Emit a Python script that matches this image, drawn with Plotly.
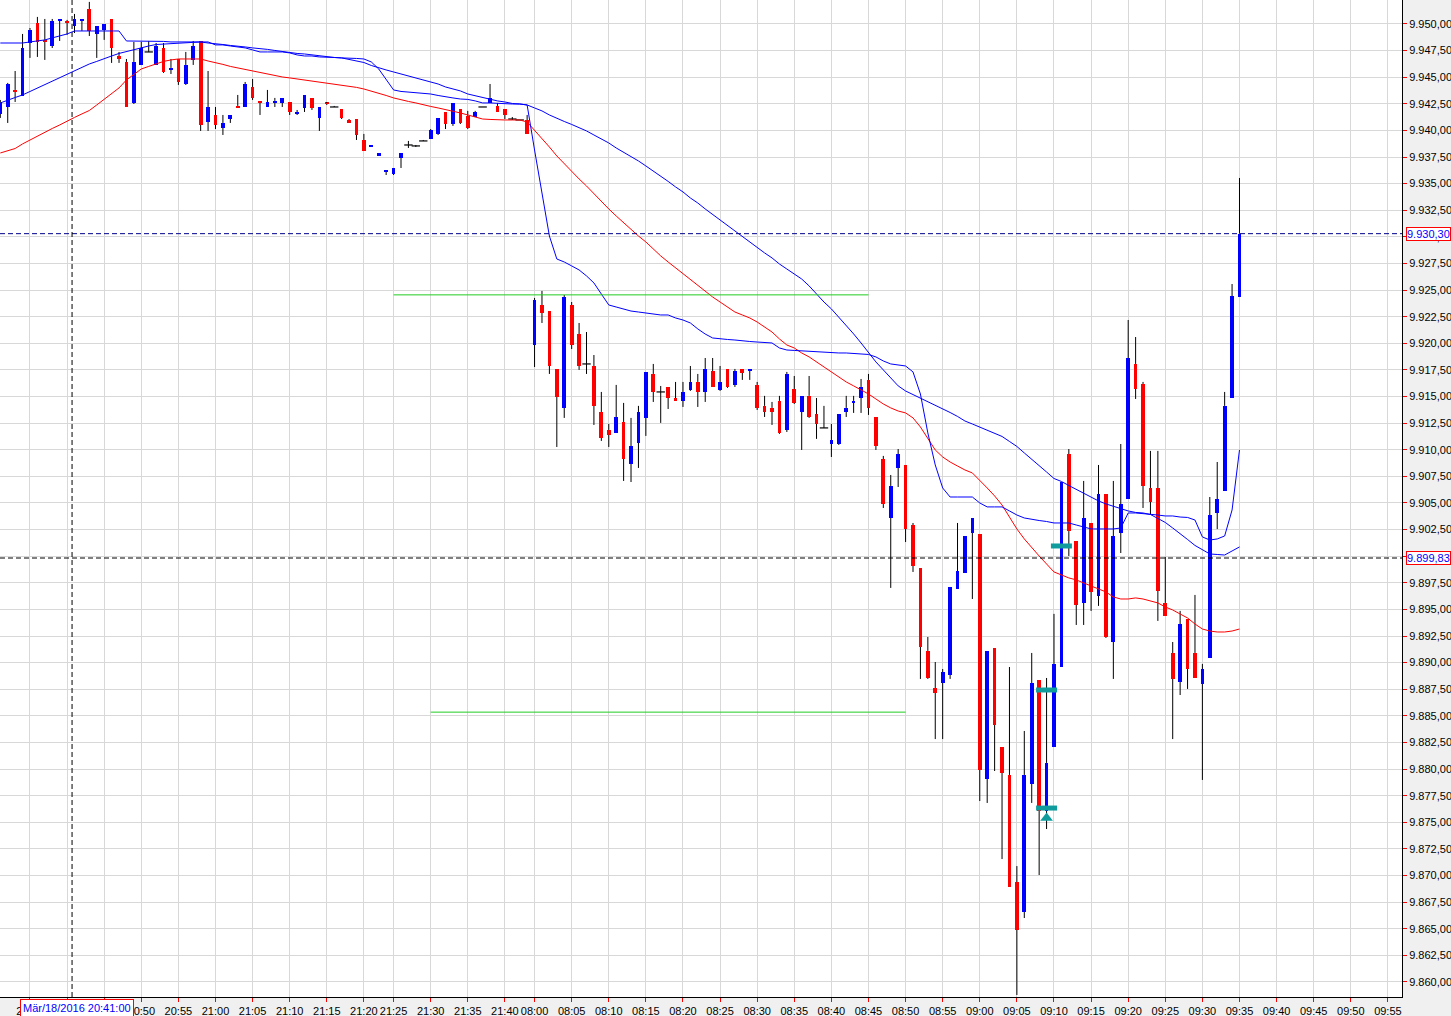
import plotly.graph_objects as go


def minutes(h, m, n):
    out = []
    for k in range(n):
        t = h * 60 + m + k
        out.append(f"{t // 60:02d}:{t % 60:02d}")
    return out


# bar times (one bar per minute, session gap between 21:43 and 08:00)
times = minutes(20, 31, 51) + ["21:23", "21:24"] + minutes(21, 25, 19) + minutes(8, 0, 96)
future = minutes(9, 36, 21)
slots = times + future

tick_labels = ["20:35", "20:40", "20:45", "20:50", "20:55", "21:00", "21:05", "21:10",
               "21:15", "21:20", "21:25", "21:30", "21:35", "21:40", "08:00", "08:05",
               "08:10", "08:15", "08:20", "08:25", "08:30", "08:35", "08:40", "08:45",
               "08:50", "08:55", "09:00", "09:05", "09:10", "09:15", "09:20", "09:25",
               "09:30", "09:35", "09:40", "09:45", "09:50", "09:55"]
# labels hidden behind the cursor time box
hidden_labels = ["20:40", "20:45"]

open_ = [
    9941.55, 9942.20, 9943.80, 9943.24, 9948.21, 9950.09, 9948.50, 9947.93, 9950.28, 9950.28,
    9949.81, 9950.28, 9951.41, 9949.06, 9949.44, 9950.47, 9946.99, 9946.43, 9942.58, 9946.15,
    9947.37, 9946.15, 9947.74, 9945.68, 9946.71, 9944.36, 9946.62, 9948.40, 9940.79, 9941.45,
    9940.23, 9941.07, 9942.30, 9942.20, 9944.08, 9942.77, 9942.20, 9942.58, 9942.58, 9942.67,
    9941.55, 9942.11, 9943.05, 9941.17, 9942.58, 9942.20, 9942.01, 9940.98, 9941.07, 9939.10,
    9938.44, 9937.60, 9936.10, 9935.91, 9937.41, 9938.63, 9938.54, 9939.01, 9939.20, 9939.67,
    9941.73, 9940.60, 9942.01, 9941.36, 9941.26, 9942.20, 9942.58, 9942.30, 9942.01, 9941.07,
    9940.98, 9940.98, 9919.84, 9923.60, 9923.03, 9917.59, 9913.93, 9923.60, 9920.87, 9918.06,
    9917.87, 9913.55, 9911.86, 9911.58, 9912.61, 9908.66, 9910.64, 9912.99, 9917.12, 9915.43,
    9915.90, 9914.86, 9914.59, 9915.62, 9916.37, 9915.43, 9917.40, 9915.62, 9917.59, 9916.09,
    9917.59, 9917.40, 9916.09, 9914.12, 9913.93, 9914.59, 9911.86, 9915.71, 9913.55, 9915.06,
    9913.36, 9912.05, 9910.54, 9910.54, 9913.55, 9914.40, 9914.86, 9916.56, 9913.08, 9909.13,
    9903.59, 9908.29, 9908.57, 9902.93, 9898.90, 9891.10, 9887.62, 9888.09, 9888.84, 9896.92,
    9898.43, 9902.18, 9902.08, 9879.07, 9891.38, 9882.08, 9879.45, 9869.39, 9866.57, 9878.61,
    9888.37, 9876.06, 9882.08, 9889.59, 9909.60, 9901.43, 9895.61, 9903.12, 9896.27, 9905.84,
    9891.94, 9902.18, 9905.37, 9918.06, 9916.18, 9906.41, 9906.41, 9895.61, 9890.91, 9888.18,
    9894.11, 9890.91, 9887.99, 9890.44, 9904.06, 9906.13, 9914.86, 9924.35]

high = [
    9942.86, 9944.46, 9945.58, 9949.06, 9949.62, 9950.66, 9950.47, 9950.47, 9950.47, 9950.38,
    9950.94, 9950.47, 9952.07, 9949.81, 9950.00, 9950.47, 9947.37, 9946.71, 9948.31, 9948.31,
    9948.40, 9948.21, 9948.21, 9946.71, 9946.71, 9947.37, 9948.40, 9948.40, 9945.58, 9942.20,
    9941.45, 9941.45, 9943.33, 9944.55, 9944.83, 9942.77, 9943.80, 9943.05, 9943.05, 9942.67,
    9941.92, 9943.33, 9943.05, 9942.20, 9942.67, 9942.30, 9942.01, 9941.07, 9941.07, 9939.67,
    9938.63, 9937.88, 9936.29, 9936.47, 9937.88, 9939.01, 9938.63, 9939.10, 9940.13, 9941.17,
    9941.73, 9942.58, 9942.01, 9941.83, 9941.83, 9942.20, 9944.36, 9942.58, 9942.01, 9941.26,
    9940.98, 9941.45, 9924.26, 9924.92, 9923.03, 9917.59, 9924.54, 9923.88, 9921.91, 9921.06,
    9918.90, 9915.43, 9912.42, 9916.09, 9914.40, 9912.99, 9914.12, 9917.31, 9918.06, 9915.99,
    9915.90, 9916.37, 9916.37, 9917.87, 9917.12, 9918.62, 9918.62, 9917.87, 9917.59, 9917.59,
    9917.59, 9917.59, 9916.37, 9915.06, 9914.49, 9915.06, 9917.31, 9916.93, 9915.06, 9916.93,
    9914.86, 9914.12, 9912.42, 9913.36, 9915.06, 9915.06, 9916.65, 9917.12, 9913.08, 9909.42,
    9907.63, 9910.07, 9908.57, 9903.12, 9898.90, 9892.41, 9890.06, 9889.40, 9897.11, 9903.12,
    9901.90, 9903.59, 9902.08, 9891.10, 9891.38, 9882.08, 9889.59, 9870.89, 9883.58, 9890.91,
    9888.37, 9888.56, 9894.58, 9906.97, 9910.07, 9901.43, 9907.07, 9903.12, 9908.57, 9905.84,
    9907.07, 9910.54, 9922.19, 9920.59, 9916.37, 9909.89, 9909.89, 9899.93, 9891.94, 9894.86,
    9894.11, 9896.36, 9889.88, 9905.56, 9908.85, 9915.43, 9925.57, 9935.53]

low = [
    9941.17, 9940.70, 9942.67, 9943.24, 9946.81, 9946.90, 9946.62, 9947.74, 9948.40, 9948.97,
    9949.15, 9949.34, 9948.87, 9946.81, 9948.50, 9946.34, 9946.34, 9942.20, 9942.48, 9946.15,
    9947.37, 9946.15, 9945.40, 9945.30, 9944.27, 9944.27, 9946.15, 9939.95, 9939.95, 9940.13,
    9939.57, 9940.70, 9942.11, 9942.20, 9942.86, 9941.45, 9942.20, 9942.20, 9942.20, 9941.45,
    9941.45, 9941.73, 9941.92, 9939.95, 9942.39, 9942.20, 9941.07, 9940.70, 9939.10, 9938.07,
    9938.44, 9937.60, 9935.81, 9935.81, 9936.47, 9938.35, 9938.44, 9939.01, 9939.20, 9939.57,
    9940.13, 9940.42, 9940.60, 9940.13, 9941.26, 9942.20, 9942.58, 9941.73, 9941.07, 9940.98,
    9940.98, 9939.67, 9917.77, 9921.91, 9917.12, 9910.26, 9912.99, 9919.46, 9917.50, 9917.12,
    9912.33, 9910.83, 9910.26, 9911.58, 9907.07, 9906.97, 9908.29, 9911.30, 9914.49, 9912.52,
    9913.83, 9914.59, 9914.02, 9915.53, 9914.02, 9914.49, 9915.90, 9915.53, 9915.81, 9915.90,
    9916.56, 9916.56, 9913.74, 9913.08, 9912.33, 9911.49, 9911.67, 9914.30, 9909.98, 9912.99,
    9911.02, 9912.05, 9909.32, 9910.45, 9913.08, 9913.46, 9913.46, 9913.27, 9909.98, 9904.53,
    9897.02, 9906.50, 9901.33, 9898.52, 9888.47, 9888.47, 9882.82, 9882.82, 9888.47, 9896.92,
    9898.43, 9895.98, 9877.00, 9876.82, 9879.82, 9871.55, 9868.92, 9858.78, 9866.01, 9876.82,
    9870.05, 9874.37, 9882.08, 9889.59, 9900.02, 9893.54, 9893.54, 9894.86, 9895.33, 9892.32,
    9888.47, 9900.30, 9905.37, 9914.77, 9904.53, 9903.96, 9893.92, 9894.39, 9882.82, 9886.96,
    9887.53, 9888.56, 9878.98, 9890.44, 9902.55, 9906.13, 9914.86, 9924.35]

close = [
    9942.58, 9944.36, 9943.61, 9947.74, 9949.44, 9948.31, 9948.31, 9950.28, 9950.47, 9950.09,
    9950.47, 9950.47, 9949.34, 9949.81, 9950.00, 9947.74, 9946.71, 9942.20, 9946.43, 9947.74,
    9947.37, 9947.93, 9945.49, 9945.87, 9944.55, 9946.15, 9947.93, 9940.51, 9942.20, 9940.51,
    9940.70, 9941.45, 9942.11, 9944.36, 9943.05, 9942.58, 9942.67, 9942.77, 9943.05, 9941.73,
    9941.73, 9943.33, 9942.11, 9942.20, 9942.48, 9942.20, 9941.17, 9940.70, 9939.57, 9938.07,
    9938.63, 9937.88, 9936.29, 9936.47, 9937.88, 9938.63, 9938.54, 9939.01, 9940.04, 9941.17,
    9940.60, 9942.58, 9940.70, 9940.23, 9941.73, 9942.20, 9943.05, 9941.73, 9941.45, 9941.07,
    9940.98, 9939.67, 9924.07, 9922.85, 9917.87, 9914.96, 9924.35, 9919.84, 9917.87, 9918.06,
    9914.12, 9911.11, 9911.39, 9913.08, 9909.13, 9910.35, 9913.55, 9917.31, 9915.43, 9915.43,
    9914.86, 9914.59, 9915.43, 9916.37, 9915.43, 9917.59, 9915.90, 9916.37, 9915.90, 9917.40,
    9917.21, 9917.59, 9913.93, 9913.55, 9913.55, 9911.58, 9917.12, 9914.40, 9915.06, 9913.08,
    9912.42, 9912.05, 9910.92, 9913.36, 9913.93, 9914.59, 9915.90, 9913.93, 9910.35, 9904.90,
    9906.60, 9909.60, 9902.55, 9899.08, 9891.47, 9888.56, 9887.15, 9889.12, 9897.11, 9898.61,
    9901.90, 9903.59, 9879.92, 9891.10, 9884.14, 9879.64, 9868.92, 9864.89, 9879.45, 9888.09,
    9876.06, 9880.58, 9889.88, 9906.97, 9902.36, 9895.42, 9903.59, 9896.64, 9905.84, 9892.41,
    9901.90, 9904.90, 9918.62, 9915.71, 9906.60, 9905.09, 9896.73, 9894.39, 9888.47, 9893.63,
    9889.40, 9888.56, 9889.40, 9903.87, 9905.37, 9914.12, 9924.44, 9930.30]

# moving averages, one value per bar
ma_red = [
    9937.88, 9938.07, 9938.30, 9938.73, 9939.10, 9939.48, 9939.85, 9940.18, 9940.51, 9940.89,
    9941.22, 9941.55, 9941.87, 9942.39, 9942.95, 9943.42, 9943.99, 9944.74, 9945.30, 9945.77,
    9946.01, 9946.24, 9946.48, 9946.62, 9946.71, 9946.71, 9946.71, 9946.71, 9946.52, 9946.38,
    9946.20, 9946.01, 9945.87, 9945.68, 9945.54, 9945.40, 9945.26, 9945.12, 9945.02, 9944.93,
    9944.83, 9944.74, 9944.65, 9944.55, 9944.46, 9944.36, 9944.27, 9944.18, 9944.04, 9943.89,
    9943.71, 9943.52, 9943.28, 9943.05, 9942.86, 9942.72, 9942.58, 9942.39, 9942.25, 9942.11,
    9941.97, 9941.83, 9941.64, 9941.45, 9941.26, 9941.07, 9941.03, 9940.98, 9940.98, 9940.98,
    9940.98, 9940.79, 9940.04, 9939.29, 9938.44, 9937.60, 9936.85, 9936.10, 9935.44, 9934.78,
    9934.03, 9933.37, 9932.62, 9931.96, 9931.31, 9930.74, 9930.08, 9929.52, 9928.86, 9928.21,
    9927.64, 9927.08, 9926.51, 9925.95, 9925.39, 9924.82, 9924.35, 9923.88, 9923.41, 9922.94,
    9922.66, 9922.38, 9922.00, 9921.53, 9921.06, 9920.41, 9919.84, 9919.56, 9919.09, 9918.72,
    9918.25, 9917.78, 9917.31, 9916.84, 9916.37, 9916.00, 9915.62, 9915.24, 9914.77, 9914.30,
    9913.93, 9913.64, 9913.46, 9912.99, 9912.14, 9911.01, 9909.98, 9909.32, 9908.85, 9908.47,
    9908.10, 9907.82, 9907.16, 9906.41, 9905.66, 9904.81, 9903.68, 9902.56, 9901.62, 9900.77,
    9900.02, 9899.27, 9898.52, 9898.24, 9897.96, 9897.77, 9897.49, 9897.20, 9896.92, 9896.64,
    9896.17, 9895.98, 9895.98, 9896.08, 9895.98, 9895.79, 9895.61, 9895.23, 9894.95, 9894.57,
    9894.20, 9893.63, 9893.16, 9892.97, 9892.88, 9892.88, 9892.97, 9893.16]

ma_blue = [
    9942.58, 9942.86, 9943.09, 9943.33, 9943.66, 9943.99, 9944.27, 9944.60, 9944.93, 9945.26,
    9945.58, 9945.91, 9946.24, 9946.48, 9946.76, 9946.99, 9947.23, 9947.42, 9947.56, 9947.75,
    9947.93, 9948.07, 9948.12, 9948.17, 9948.21, 9948.26, 9948.31, 9948.31, 9948.21, 9948.17,
    9948.07, 9947.98, 9947.93, 9947.84, 9947.75, 9947.70, 9947.61, 9947.51, 9947.42, 9947.28,
    9947.23, 9947.18, 9947.09, 9946.99, 9946.95, 9946.85, 9946.81, 9946.67, 9946.52, 9946.38,
    9946.10, 9945.87, 9945.68, 9945.49, 9945.30, 9945.12, 9944.93, 9944.74, 9944.55, 9944.36,
    9944.08, 9943.89, 9943.71, 9943.42, 9943.24, 9943.09, 9942.95, 9942.77, 9942.67, 9942.53,
    9942.48, 9942.39, 9942.11, 9941.83, 9941.45, 9941.12, 9940.84, 9940.56, 9940.27, 9939.95,
    9939.57, 9939.20, 9938.82, 9938.35, 9937.97, 9937.51, 9937.13, 9936.66, 9936.19, 9935.67,
    9935.21, 9934.69, 9934.22, 9933.65, 9933.18, 9932.62, 9932.10, 9931.59, 9931.07, 9930.55,
    9929.99, 9929.52, 9928.96, 9928.49, 9928.02, 9927.45, 9926.98, 9926.51, 9926.04, 9925.39,
    9924.63, 9923.88, 9923.23, 9922.47, 9921.72, 9920.88, 9920.03, 9919.09, 9918.25, 9917.50,
    9916.74, 9916.00, 9915.52, 9915.19, 9914.86, 9914.53, 9914.21, 9913.88, 9913.50, 9913.13,
    9912.70, 9912.42, 9912.14, 9911.86, 9911.58, 9911.25, 9910.78, 9910.31, 9909.70, 9909.13,
    9908.52, 9907.91, 9907.30, 9907.02, 9906.64, 9906.27, 9905.89, 9905.56, 9905.19, 9904.91,
    9904.67, 9904.44, 9904.25, 9904.11, 9904.06, 9903.92, 9903.54, 9903.17, 9902.65, 9902.14,
    9901.57, 9901.01, 9900.59, 9900.21, 9900.16, 9900.11, 9900.49, 9900.87]

ma_step = [
    9948.21, 9948.21, 9948.21, 9948.21, 9948.31, 9948.40, 9948.50, 9948.69, 9948.87, 9949.06,
    9949.34, 9949.34, 9949.34, 9949.34, 9949.34, 9949.34, 9949.34, 9948.40, 9948.40, 9948.40,
    9948.36, 9948.36, 9948.36, 9948.31, 9948.31, 9948.31, 9948.31, 9948.31, 9948.31, 9948.03,
    9948.03, 9947.93, 9947.84, 9947.75, 9947.56, 9947.37, 9947.37, 9947.37, 9947.37, 9947.28,
    9947.09, 9946.99, 9946.99, 9946.90, 9946.90, 9946.85, 9946.81, 9946.81, 9946.76, 9946.71,
    9946.43, 9945.77, 9944.74, 9943.80, 9943.66, 9943.61, 9943.57, 9943.52, 9943.42, 9943.28,
    9943.14, 9943.05, 9942.95, 9942.91, 9942.77, 9942.58, 9942.58, 9942.53, 9942.53, 9942.48,
    9942.48, 9942.39, 9938.16, 9933.94, 9930.08, 9927.92, 9927.64, 9927.27, 9926.89, 9926.33,
    9925.67, 9924.63, 9923.60, 9923.41, 9923.22, 9923.03, 9922.94, 9922.85, 9922.75, 9922.66,
    9922.66, 9922.38, 9922.19, 9921.91, 9921.35, 9920.87, 9920.50, 9920.41, 9920.36, 9920.31,
    9920.22, 9920.17, 9920.12, 9920.08, 9920.03, 9919.56, 9919.37, 9919.33, 9919.28, 9919.28,
    9919.23, 9919.18, 9919.14, 9919.09, 9919.09, 9919.05, 9919.00, 9918.95, 9918.72, 9918.34,
    9918.06, 9917.96, 9917.87, 9917.31, 9915.24, 9911.58, 9908.57, 9906.41, 9905.56, 9905.56,
    9905.56, 9905.56, 9905.00, 9904.63, 9904.63, 9904.63, 9904.25, 9903.87, 9903.59, 9903.45,
    9903.35, 9903.26, 9903.12, 9903.12, 9903.12, 9902.93, 9902.74, 9902.56, 9902.56, 9902.56,
    9902.56, 9902.65, 9904.06, 9904.06, 9904.01, 9903.96, 9903.87, 9903.78, 9903.78, 9903.68,
    9903.64, 9903.40, 9901.81, 9901.52, 9901.62, 9901.90, 9904.34, 9909.98]

# drawn levels and trade markers
green_levels = [9924.55, 9885.35]
green_start = ["21:25", "21:30"]
green_end = ["08:45", "08:50"]
trade_times = ["09:09", "09:09", "09:11"]
trade_levels = [9887.43, 9876.34, 9900.96]
arrow_time = "09:09"
arrow_level = 9875.40
last_price = 9930.30
cursor_price = 9899.83
cursor_x = 9.67
cursor_label = "Mär/18/2016 20:41:00"

BLUE = "#0000ff"
RED = "#ff0000"
TEAL = "#109c9c"


def de(v):
    s = f"{v:,.2f}"
    return s.replace(",", "X").replace(".", ",").replace("X", ".")


xs = list(range(len(times)))
pos = {t: i for i, t in enumerate(slots)}

body_base = [min(o, c) for o, c in zip(open_, close)]
body_len = [abs(c - o) for o, c in zip(open_, close)]
body_col = [BLUE if c > o else RED for o, c in zip(open_, close)]

wx, wy = [], []
for i, (o, h, l, c) in enumerate(zip(open_, high, low, close)):
    wx += [i, i, None, i, i, None]
    wy += [h, max(o, c), None, min(o, c), l, None]

doji_x = [i for i, (o, c) in enumerate(zip(open_, close)) if o == c]
doji_y = [open_[i] for i in doji_x]

fig = go.Figure()

fig.add_trace(go.Bar(x=xs, y=body_len, base=body_base, width=0.5,
                     marker=dict(color=body_col, line=dict(width=0))))

fig.add_trace(go.Scatter(x=wx, y=wy, mode="lines",
                         line=dict(color="black", width=1)))

fig.add_trace(go.Scatter(x=doji_x, y=doji_y, mode="markers",
                         marker=dict(symbol="line-ew", size=6,
                                     line=dict(color="black", width=1.2))))

fig.add_trace(go.Scatter(x=xs, y=ma_red, mode="lines", line=dict(color=RED, width=1)))
fig.add_trace(go.Scatter(x=xs, y=ma_blue, mode="lines", line=dict(color=BLUE, width=1)))
fig.add_trace(go.Scatter(x=xs, y=ma_step, mode="lines", line=dict(color=BLUE, width=1)))

for lvl, a, b in zip(green_levels, green_start, green_end):
    fig.add_trace(go.Scatter(x=[pos[a], pos[b]], y=[lvl, lvl], mode="lines",
                             line=dict(color="#22cc22", width=1)))

fig.add_trace(go.Scatter(x=[pos[t] for t in trade_times], y=trade_levels, mode="markers",
                         marker=dict(symbol="line-ew", size=15,
                                     line=dict(color=TEAL, width=5))))
fig.add_trace(go.Scatter(x=[pos[arrow_time]], y=[arrow_level], mode="markers",
                         marker=dict(symbol="triangle-up", size=11, color=TEAL,
                                     line=dict(width=0))))

# last price and cursor cross-hair
fig.add_shape(type="line", xref="paper", yref="y", x0=0, x1=1,
              y0=last_price, y1=last_price,
              line=dict(color="#00008b", width=1, dash="5px,3px"))
fig.add_shape(type="line", xref="paper", yref="y", x0=0, x1=1,
              y0=cursor_price, y1=cursor_price,
              line=dict(color="black", width=1, dash="5px,3px"))
fig.add_shape(type="line", xref="x", yref="paper", x0=cursor_x, x1=cursor_x,
              y0=0, y1=1, line=dict(color="black", width=1, dash="5px,3px"))

for v in (last_price, cursor_price):
    fig.add_annotation(xref="paper", yref="y", x=1, y=v, xanchor="left", xshift=4,
                       text=de(v), showarrow=False, font=dict(color=BLUE, size=11),
                       bgcolor="white", bordercolor=RED, borderwidth=1, borderpad=0)

fig.add_annotation(xref="x", yref="paper", x=cursor_x, y=0, xanchor="center",
                   yanchor="top", xshift=5, yshift=-2, text=cursor_label, showarrow=False,
                   font=dict(color=BLUE, size=11), bgcolor="white",
                   bordercolor=RED, borderwidth=1, borderpad=2)

fig.update_layout(
    width=1451,
    height=1016,
    margin=dict(l=0, r=49, t=0, b=19, pad=0),
    paper_bgcolor="#f0f0f0",
    plot_bgcolor="white",
    showlegend=False,
    separators=",.",
    font=dict(family="Liberation Sans, Arial, sans-serif", size=11, color="black"),
    bargap=0,
)
fig.update_xaxes(
    range=[-0.04, 188.9],
    tickmode="array",
    tickvals=[pos[t] for t in tick_labels],
    ticktext=["" if t in hidden_labels else t for t in tick_labels],
    showgrid=True, gridcolor="#d8d8d8", gridwidth=1,
    ticks="outside", ticklen=4, tickcolor=RED,
    showline=True, linecolor="black", linewidth=1,
    zeroline=False, automargin=False, fixedrange=True,
)
fig.update_yaxes(
    side="right",
    range=[9858.59, 9952.25],
    tick0=9860, dtick=2.5, tickformat=",.2f",
    showgrid=True, gridcolor="#d8d8d8", gridwidth=1,
    ticks="outside", ticklen=4, tickcolor=RED,
    showline=True, linecolor="black", linewidth=1,
    zeroline=False, automargin=False, fixedrange=True,
)

fig.write_html("out.html", config={"displayModeBar": False},
               post_script="document.body.style.margin='0';document.body.style.overflow='hidden';")
